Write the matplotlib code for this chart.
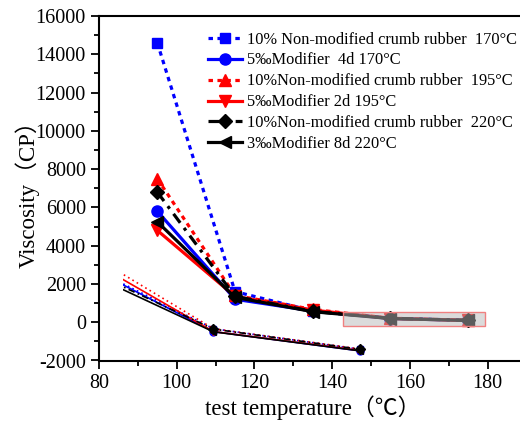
import matplotlib
matplotlib.use("Agg")
import matplotlib.pyplot as plt
from matplotlib.patches import Rectangle

plt.rcParams['font.family'] = ['Liberation Serif', 'Noto Sans CJK SC', 'DejaVu Sans']
plt.rcParams['axes.unicode_minus'] = False

# test temperatures
temps = [95, 115, 135, 155, 175]

# viscosity (CP)
v_nm170 = [14600, 1600, 590, 208, 100]
v_m4d170 = [5800, 1200, 590, 193, 92]
v_nm195 = [7500, 1400, 670, 208, 102]
v_m2d195 = [4800, 1350, 635, 193, 94]
v_nm220 = [6800, 1350, 565, 206, 100]
v_m8d220 = [5250, 1300, 550, 192, 92]

labels = [
    "10% Non-modified crumb rubber  170°C",
    "5‰Modifier  4d 170°C",
    "10%Non-modified crumb rubber  195°C",
    "5‰Modifier 2d 195°C",
    "10%Non-modified crumb rubber  220°C",
    "3‰Modifier 8d 220°C",
]

series = [v_nm170, v_m4d170, v_nm195, v_m2d195, v_nm220, v_m8d220]
colors = ['#0000ff', '#0000ff', '#ff0000', '#ff0000', '#000000', '#000000']
markers = ['s', 'o', '^', 'v', 'D', '<']
styles = [(0, (1.4, 1.4)), '-', (0, (1.4, 1.4)), '-', (0, (3.5, 2, 1, 2)), '-']
msizes = [7, 8, 8, 8, 7, 8]

# zoomed region (magnifier)
box_x = (142.7, 179.4)
box_y = (-200, 550)

fig = plt.figure(figsize=(5.2, 4.21), dpi=100)
ax = fig.add_axes([99 / 520, 1 - 360.5 / 421, 427.5 / 520, 344.5 / 421])

for vals, c, m, ls, ms, lab in zip(series, colors, markers, styles, msizes, labels):
    ax.plot(temps, vals, color=c, marker=m, linestyle=ls, lw=2.3, ms=ms,
            label=lab, zorder=3)

ax.add_patch(Rectangle((box_x[0], box_y[0]), box_x[1] - box_x[0], box_y[1] - box_y[0],
                       facecolor=(0.72, 0.72, 0.72, 0.5), edgecolor='#f08080',
                       lw=1.0, zorder=5))

ax.set_xlim(80, 190)
ax.set_ylim(-2000, 16000)
ax.set_xticks(range(80, 191, 20))
ax.set_xticks(range(90, 191, 20), minor=True)
ax.set_yticks(range(-2000, 16001, 2000))
ax.set_yticks(range(-1000, 16000, 2000), minor=True)
ax.tick_params(axis='both', which='major', direction='out', length=6, width=1.3,
               labelsize=14.5)
ax.tick_params(axis='both', which='minor', direction='out', length=3.5, width=1.3)
for s in ['left', 'bottom', 'top', 'right']:
    ax.spines[s].set_linewidth(1.5)
ax.tick_params(top=False, right=False)

ax.set_xlabel("test temperature（℃）", fontsize=16.5, labelpad=2)
ax.set_ylabel("Viscosity（CP）", fontsize=16.5, labelpad=-3)

leg = ax.legend(loc='upper left', bbox_to_anchor=(0.255, 0.955), frameon=False,
                fontsize=11.8, handlelength=2.1, handletextpad=0.3,
                labelspacing=0.3, borderaxespad=0, borderpad=0)

# magnified view of the boxed region, drawn below the curves
a_scale = 10.0
b_off = -2420.0
ins_x0, ins_x1 = 86.2, 155.6
ins_ylim = (0, 600)
ins = ax.inset_axes([ins_x0, a_scale * ins_ylim[0] + b_off, ins_x1 - ins_x0,
                     a_scale * (ins_ylim[1] - ins_ylim[0])], transform=ax.transData)
ins_styles = [(0, (1, 2)), '-', (0, (1, 2)), '-', (0, (4, 2, 1, 2)), '-']
for vals, c, m, ls in zip(series, colors, markers, ins_styles):
    ins.plot(temps, vals, color=c, marker=m, linestyle=ls, lw=1.2, ms=5)
ins.set_xlim(*box_x)
ins.set_ylim(*ins_ylim)
ins.axis('off')
ins.patch.set_alpha(0)

fig.savefig("out.png", dpi=100)
